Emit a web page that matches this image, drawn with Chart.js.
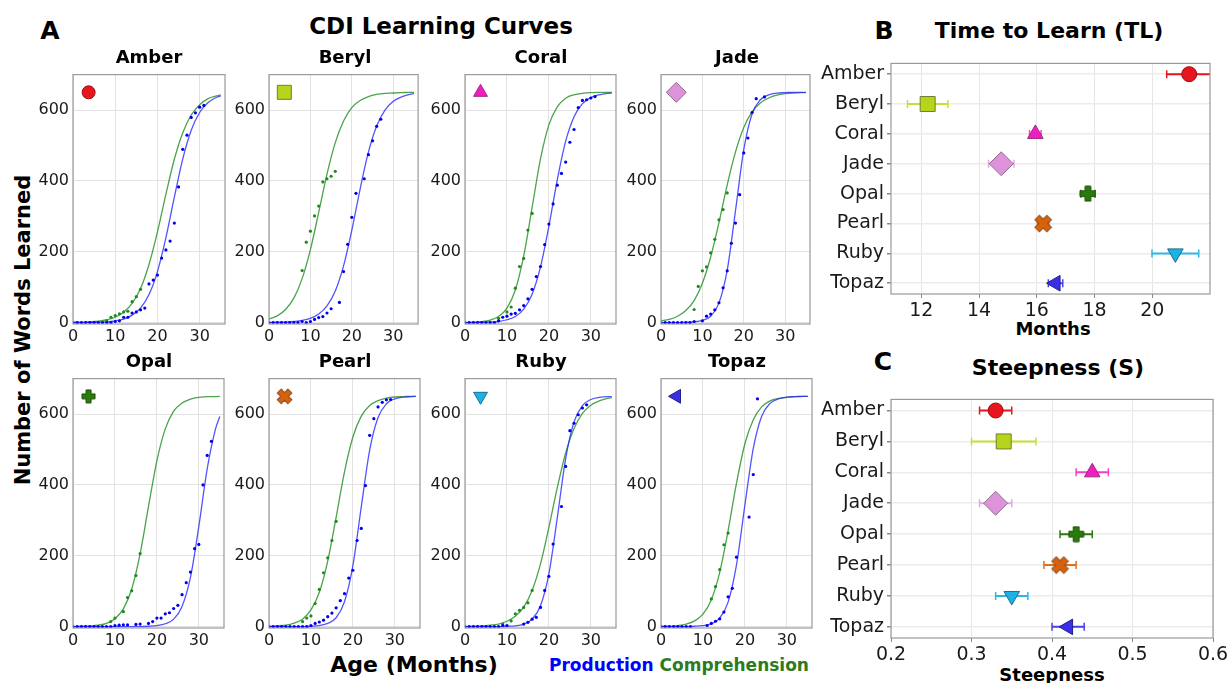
<!DOCTYPE html>
<html>
<head>
<meta charset="utf-8">
<script src="https://cdn.jsdelivr.net/npm/chart.js@4.4.0/dist/chart.umd.min.js"></script>
<style>
  body { margin: 0; background: #fff; font-family: 'DejaVu Sans', sans-serif; }
  #fig { position: relative; width: 1231px; height: 683px; overflow: hidden; background: #fff; }
  .txt { position: absolute; white-space: nowrap; transform: translate(-50%, -50%); color: #000; line-height: 1; }
  .b { font-weight: bold; }
  canvas { position: absolute; }
</style>
</head>
<body>
<div id="fig">
  <div class="txt b" style="left:50px;top:30px;font-size:25px">A</div>
  <div class="txt b" style="left:441px;top:26px;font-size:23px">CDI Learning Curves</div>
  <div class="txt b" style="left:23px;top:330px;font-size:21px;transform:translate(-50%,-50%) rotate(-90deg)">Number of Words Learned</div>
  <div class="txt b" style="left:414px;top:665px;font-size:22px">Age (Months)</div>
  <div class="txt b" style="left:679px;top:665px;font-size:17px;color:#0000ff">Production <span style="color:#2e7a1e">Comprehension</span></div>

  <div class="txt b" style="left:884px;top:30px;font-size:25px">B</div>
  <div class="txt b" style="left:1049px;top:31px;font-size:22px">Time to Learn (TL)</div>
  <div class="txt b" style="left:1053px;top:329px;font-size:18px">Months</div>

  <div class="txt b" style="left:883px;top:361px;font-size:25px">C</div>
  <div class="txt b" style="left:1058px;top:368px;font-size:22px">Steepness (S)</div>
  <div class="txt b" style="left:1052px;top:675px;font-size:18px">Steepness</div>
</div>

<script>
// ---- data ----
const subjects = ['Amber', 'Beryl', 'Coral', 'Jade', 'Opal', 'Pearl', 'Ruby', 'Topaz'];

const ages = [0, 2, 4, 6, 8, 10, 12, 14, 16, 18, 20, 22, 24, 26, 28, 30, 32, 34, 35];

// fitted curves (words)
const amberProdFit = [0, 0, 1, 1, 2, 5, 10, 21, 41, 79, 144, 239, 354, 462, 543, 593, 621, 636, 640];
const amberCompFit = [1, 1, 2, 4, 8, 15, 29, 54, 96, 164, 256, 362, 461, 536, 586, 615, 632, 640, 643];
const berylProdFit = [0, 1, 1, 3, 6, 12, 24, 47, 89, 160, 261, 377, 481, 555, 600, 625, 637, 644, 646];
const berylCompFit = [10, 19, 37, 69, 124, 206, 311, 419, 508, 569, 607, 627, 638, 644, 647, 648, 649, 650, 650];
const coralProdFit = [0, 0, 1, 2, 3, 8, 17, 38, 80, 157, 272, 403, 512, 581, 618, 635, 643, 647, 648];
const coralCompFit = [0, 1, 3, 7, 17, 41, 92, 188, 325, 462, 558, 609, 633, 643, 647, 649, 650, 650, 650];
const jadeProdFit  = [0, 0, 0, 1, 2, 6, 18, 55, 148, 316, 488, 589, 629, 643, 648, 649, 650, 650, 650];
const jadeCompFit  = [5, 9, 18, 34, 62, 111, 185, 282, 389, 482, 551, 595, 620, 634, 642, 646, 648, 649, 649];
const opalProdFit  = [0, 0, 0, 0, 0, 0, 0, 0, 0, 1, 3, 8, 21, 57, 139, 283, 446, 559, 593];
const opalCompFit  = [0, 1, 2, 4, 9, 22, 50, 106, 205, 339, 468, 558, 608, 631, 642, 647, 649, 649, 650];
const pearlProdFit = [0, 0, 0, 0, 0, 1, 3, 9, 25, 70, 172, 338, 498, 590, 629, 643, 648, 649, 650];
const pearlCompFit = [1, 2, 4, 10, 21, 47, 97, 185, 308, 437, 535, 594, 624, 638, 645, 648, 649, 650, 650];
const rubyProdFit  = [0, 0, 0, 0, 0, 1, 2, 7, 21, 59, 149, 307, 474, 578, 624, 641, 647, 649, 649];
const rubyCompFit  = [0, 1, 2, 4, 7, 15, 29, 55, 102, 177, 280, 392, 490, 559, 602, 625, 637, 644, 646];
const topazProdFit = [0, 0, 0, 0, 1, 3, 8, 24, 69, 174, 343, 503, 594, 630, 643, 648, 649, 650, 650];
const topazCompFit = [1, 1, 3, 7, 16, 35, 76, 153, 271, 405, 516, 584, 620, 637, 644, 647, 649, 650, 650];

// observed scores, index = age in months, null = no observation
const amberProdObs = [0, 0, 0, 0, 0, 0, 0, 0, 0, 0, 3, 5, 15, 15, 27, 30, 36, 41, 109, 120, 134, 182, 205, 230, 281, 383, 489, 529, 579, 592, 608, 613];
const amberCompObs = [null, null, null, null, null, null, null, null, 4, 15, 20, 25, 30, 32, 59, 73, 94];
const berylProdObs = [0, 0, 0, 0, 0, 0, 0, 0, 3, 0, 3, 9, 14, 17, 27, 39, null, 57, 144, 221, 297, 365, null, 406, 474, 513, 554, 574];
const berylCompObs = [null, null, null, null, null, null, null, null, 147, 227, 258, 301, 329, 397, 406, 413, 427];
const coralProdObs = [0, 0, 0, 0, 0, 0, 0, 0, 5, 15, 18, 24, 26, 36, 48, 67, 94, 130, 158, 220, 278, 335, 388, 421, 453, 509, 545, 607, 627, 629, 634, 638];
const coralCompObs = [null, null, null, null, null, null, null, null, 12, null, 30, 44, 97, 158, 181, 261, 308];
const jadeProdObs  = [0, 0, 0, 0, 0, 0, 0, 0, 3, null, 5, 18, 24, 36, 56, 98, 146, 224, 281, 361, 479, 521, 593, 632, null, 637];
const jadeCompObs  = [null, null, null, null, null, null, null, null, 37, 102, 146, 157, 197, 235, 290, 319, 366];
const opalProdObs  = [0, 0, 0, 0, 0, 0, 0, 0, 0, 0, 3, 4, 5, 5, null, 6, 7, null, 9, 14, 24, 24, 36, 39, 51, 60, 90, 124, 154, 220, 232, 400, 483, 523];
const opalCompObs  = [null, null, null, null, null, null, null, null, null, 14, 24, null, 42, 82, 101, 144, 206];
const pearlProdObs = [0, 0, 0, 0, 0, 0, 0, 0, 0, 0, 3, 9, 13, 18, 28, 38, 53, 73, 93, 137, 159, 243, 277, 398, 540, 587, 620, 633, 640, 641];
const pearlCompObs = [null, null, null, null, null, null, null, null, 14, 24, 30, 65, 105, 152, 194, 243, 297];
const rubyProdObs  = [0, 0, 0, 0, 0, 0, 0, 0, 0, 3, 3, null, null, null, 7, 12, 21, 26, 54, 102, 142, 233, null, 339, 452, 553, 574, 598, 617, 626];
const rubyCompObs  = [null, null, null, null, null, null, null, null, null, 7, null, 16, 36, 46, 54, 67, 102];
const topazProdObs = [0, 0, 0, 0, 0, 0, 0, 0, null, null, null, 3, 9, 15, 22, 41, 84, 108, 196, null, null, 309, 429, 643];
const topazCompObs = [null, null, null, null, null, null, null, null, null, null, null, null, 78, 113, 161, 231, 264];

// panel B and C
const timeToLearn    = [21.28, 12.22, 15.95, 14.77, 17.77, 16.22, 20.8, 16.65];
const timeToLearnErr = [0.78, 0.7, 0.2, 0.44, 0.25, 0.2, 0.81, 0.25];
const steepness      = [0.33, 0.34, 0.45, 0.33, 0.43, 0.41, 0.35, 0.42];
const steepnessErr   = [0.02, 0.04, 0.02, 0.02, 0.02, 0.02, 0.02, 0.02];

// tick labels
const curveTicksX = [0, 10, 20, 30];
const curveTicksY = [0, 200, 400, 600];
const tlTicks = [12, 14, 16, 18, 20];
const steepTicks = [0.2, 0.3, 0.4, 0.5, 0.6];

// where the subject symbol sits inside each curve panel
const symbolAge = 3.7;
const symbolWords = 650;

// ---- styles ----
Chart.defaults.font.family = "'DejaVu Sans', sans-serif";
Chart.defaults.color = '#1a1a1a';

const fits = {
  Amber: [amberProdFit, amberCompFit, amberProdObs, amberCompObs],
  Beryl: [berylProdFit, berylCompFit, berylProdObs, berylCompObs],
  Coral: [coralProdFit, coralCompFit, coralProdObs, coralCompObs],
  Jade:  [jadeProdFit, jadeCompFit, jadeProdObs, jadeCompObs],
  Opal:  [opalProdFit, opalCompFit, opalProdObs, opalCompObs],
  Pearl: [pearlProdFit, pearlCompFit, pearlProdObs, pearlCompObs],
  Ruby:  [rubyProdFit, rubyCompFit, rubyProdObs, rubyCompObs],
  Topaz: [topazProdFit, topazCompFit, topazProdObs, topazCompObs]
};

const look = {
  Amber: { style: 'circle',   fill: '#e8141e', edge: '#9a1010', bar: '#e8141e', rot: 0 },
  Beryl: { style: 'rect',     fill: '#b5d41a', edge: '#6f7f30', bar: '#c5e030', rot: 0 },
  Coral: { style: 'triangle', fill: '#f21cc0', edge: '#9a2a80', bar: '#f23ec8', rot: 0 },
  Jade:  { style: 'rectRot',  fill: '#dd92da', edge: '#8f6f8f', bar: '#e6a6e2', rot: 0 },
  Opal:  { style: 'plus',     fill: '#2a7a0c', edge: '#1c4f08', bar: '#2a7a0c', rot: 0 },
  Pearl: { style: 'x',        fill: '#d8620c', edge: '#8a4a20', bar: '#e0701a', rot: 0 },
  Ruby:  { style: 'triangle', fill: '#1db2e4', edge: '#1a6f90', bar: '#2ab8e8', rot: 180 },
  Topaz: { style: 'triangle', fill: '#3a2ee6', edge: '#20208a', bar: '#4a40e8', rot: -90 }
};

// thick plus / x symbols as small images
function crossImage(size, fill, edge, diagonal) {
  const c = document.createElement('canvas');
  c.width = size; c.height = size;
  const g = c.getContext('2d');
  const t = size / 6, h = size / 2 - 1;
  g.translate(size / 2, size / 2);
  if (diagonal) g.rotate(Math.PI / 4);
  g.beginPath();
  g.moveTo(-t, -h); g.lineTo(t, -h); g.lineTo(t, -t); g.lineTo(h, -t);
  g.lineTo(h, t); g.lineTo(t, t); g.lineTo(t, h); g.lineTo(-t, h);
  g.lineTo(-t, t); g.lineTo(-h, t); g.lineTo(-h, -t); g.lineTo(-t, -t);
  g.closePath();
  g.fillStyle = fill; g.fill();
  g.strokeStyle = edge; g.lineWidth = 1; g.stroke();
  return c;
}

function symbol(name, big) {
  const s = look[name];
  if (s.style === 'plus') return { style: crossImage(big ? 17 : 15, s.fill, s.edge, false), r: 8 };
  if (s.style === 'x') return { style: crossImage(big ? 19 : 17, s.fill, s.edge, true), r: 8 };
  const radii = {
    circle: big ? 7.5 : 6.5,
    rect: big ? 10.6 : 9.9,
    triangle: big ? 9 : 8,
    rectRot: big ? 12 : 10
  };
  return { style: s.style, r: radii[s.style] };
}

const frame = {
  id: 'frame',
  afterDraw(chart) {
    const { ctx, chartArea: a } = chart;
    ctx.save();
    ctx.strokeStyle = '#9a9a9a';
    ctx.lineWidth = 1.2;
    ctx.strokeRect(a.left, a.top, a.width, a.height);
    ctx.restore();
  }
};

const pts = (xs, ys) => ys.map((y, i) => ({ x: xs[i], y })).filter(p => p.y !== null);
const obs = ys => ys.map((y, i) => ({ x: i, y })).filter(p => p.y !== null);
const fixedTicks = vals => scale => { scale.ticks = vals.map(v => ({ value: v })); };

const fig = document.getElementById('fig');
const cols = [73, 269, 465, 661];
const rows = [67, 371];
const W = 152, H = 257;

// ---- panel A: learning curves ----
subjects.forEach((name, i) => {
  const L = cols[i % 4], T = rows[Math.floor(i / 4)];
  const cv = document.createElement('canvas');
  cv.width = 44 + W + 8; cv.height = 6 + H + 26;
  cv.style.left = (L - 44) + 'px';
  cv.style.top = (T - 6) + 'px';
  fig.appendChild(cv);

  const title = document.createElement('div');
  title.className = 'txt b';
  title.style.cssText = `left:${L + W / 2}px;top:${T - 10}px;font-size:18px`;
  title.textContent = name;
  fig.appendChild(title);

  const [prodFit, compFit, prodObs, compObs] = fits[name];
  const sym = symbol(name, false);

  new Chart(cv, {
    type: 'scatter',
    data: {
      datasets: [
        {
          data: [{ x: symbolAge, y: symbolWords }],
          pointStyle: sym.style, pointRadius: sym.r, pointRotation: look[name].rot,
          backgroundColor: look[name].fill, borderColor: look[name].edge, borderWidth: 1,
          order: 0
        },
        {
          data: obs(prodObs), pointRadius: 1.6, backgroundColor: '#0000ee', borderWidth: 0, order: 1
        },
        {
          data: obs(compObs), pointRadius: 1.6, backgroundColor: '#1f8a1f', borderWidth: 0, order: 1
        },
        {
          data: pts(ages, prodFit), showLine: true, pointRadius: 0,
          borderColor: 'rgba(40,40,255,0.8)', borderWidth: 1.3, cubicInterpolationMode: 'monotone', order: 2
        },
        {
          data: pts(ages, compFit), showLine: true, pointRadius: 0,
          borderColor: 'rgba(30,140,30,0.8)', borderWidth: 1.3, cubicInterpolationMode: 'monotone', order: 2
        }
      ]
    },
    options: {
      responsive: false, animation: false, events: [],
      layout: { padding: { top: 6, right: 8, left: 0, bottom: 0 } },
      plugins: { legend: { display: false }, tooltip: { enabled: false } },
      scales: {
        x: {
          type: 'linear', min: 0, max: 36,
          afterBuildTicks: fixedTicks(curveTicksX),
          afterFit: s => { s.height = 26; },
          grid: { color: '#e2e2e2', drawTicks: false },
          border: { display: false },
          ticks: { padding: 3, font: { size: 16 } }
        },
        y: {
          type: 'linear', min: -4, max: 700,
          afterBuildTicks: fixedTicks(curveTicksY),
          afterFit: s => { s.width = 44; },
          grid: { color: '#e2e2e2', drawTicks: false },
          border: { display: false },
          ticks: { padding: 4, font: { size: 16 } }
        }
      }
    },
    plugins: [frame]
  });
});

// ---- panels B and C: parameter dot plots ----
function dotPlot(L, T, w, h, padRight, values, errs, xmin, xmax, ticks, fmt) {
  const cv = document.createElement('canvas');
  cv.width = 80 + w + padRight; cv.height = 6 + h + 30;
  cv.style.left = (L - 80) + 'px';
  cv.style.top = (T - 6) + 'px';
  fig.appendChild(cv);

  const syms = subjects.map(n => symbol(n, true));
  const bars = subjects.map((n, i) => ({
    data: [{ x: values[i] - errs[i], y: i }, { x: values[i] + errs[i], y: i }],
    showLine: true, borderColor: look[n].bar, borderWidth: 2,
    pointStyle: 'line', pointRotation: 90, pointRadius: 4,
    pointBorderColor: look[n].bar, pointBorderWidth: 1.5,
    clip: 0, order: 1
  }));

  new Chart(cv, {
    type: 'scatter',
    data: {
      datasets: [
        {
          data: subjects.map((n, i) => ({ x: values[i], y: i })),
          pointStyle: syms.map(s => s.style),
          pointRadius: syms.map(s => s.r),
          pointRotation: subjects.map(n => look[n].rot),
          backgroundColor: subjects.map(n => look[n].fill),
          borderColor: subjects.map(n => look[n].edge),
          borderWidth: 1, clip: false, order: 0
        },
        ...bars
      ]
    },
    options: {
      responsive: false, animation: false, events: [],
      layout: { padding: { top: 6, right: padRight, left: 0, bottom: 0 } },
      plugins: { legend: { display: false }, tooltip: { enabled: false } },
      scales: {
        x: {
          type: 'linear', min: xmin, max: xmax,
          afterBuildTicks: fixedTicks(ticks),
          afterFit: s => { s.height = 30; },
          grid: { color: '#e6e6e6', drawTicks: true, tickLength: 4, tickColor: '#888' },
          border: { display: false },
          ticks: { padding: 2, font: { size: 19 }, callback: fmt }
        },
        y: {
          type: 'linear', min: -0.36, max: 7.36, reverse: true,
          afterBuildTicks: fixedTicks(subjects.map((n, i) => i)),
          afterFit: s => { s.width = 80; },
          grid: { color: '#ececec', lineWidth: 1.5, drawTicks: true, tickLength: 4, tickColor: '#888' },
          border: { display: false },
          ticks: { padding: 3, font: { size: 19 }, callback: v => subjects[v] }
        }
      }
    },
    plugins: [frame]
  });
}

dotPlot(891, 55, 326, 239, 6, timeToLearn, timeToLearnErr, 10.95, 22.0, tlTicks, v => String(v));
dotPlot(891, 391, 322, 247, 24, steepness, steepnessErr, 0.2, 0.6, steepTicks, v => v.toFixed(1));
</script>
</body>
</html>
